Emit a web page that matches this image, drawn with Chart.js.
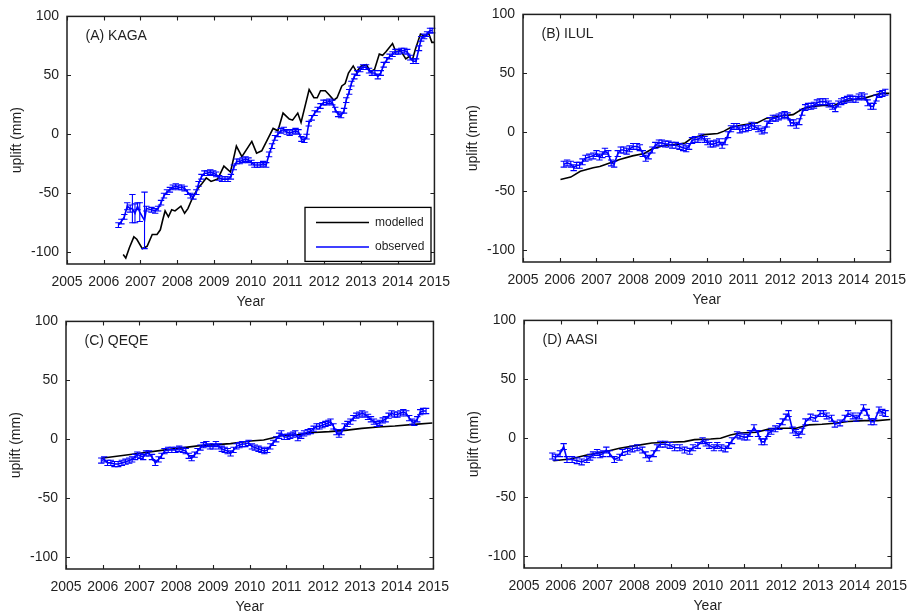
<!DOCTYPE html>
<html lang="en">
<head>
<meta charset="UTF-8">
<title>GPS uplift: modelled vs observed</title>
<script src="https://cdn.jsdelivr.net/npm/chart.js"></script>
<style>
    body {
        margin: 0;
        background: #fff;
        width: 915px;
        height: 614px;
        overflow: hidden;
        position: relative;
    }
    canvas { position: absolute; }
</style>
</head>
<body>
<canvas id="panelA" width="460" height="312" style="left:0px;top:0px"></canvas>
<canvas id="panelB" width="460" height="312" style="left:456px;top:-2px"></canvas>
<canvas id="panelC" width="460" height="312" style="left:-1px;top:305px"></canvas>
<canvas id="panelD" width="460" height="312" style="left:457px;top:304px"></canvas>
<script>
const xTicks = [2005, 2006, 2007, 2008, 2009, 2010, 2011, 2012, 2013, 2014, 2015];
const yTicks = [-100, -50, 0, 50, 100];

// (A) KAGA
const obsYearsA = [2006.40, 2006.48, 2006.56, 2006.64, 2006.72, 2006.78, 2006.85, 2006.92, 2006.98, 2007.11,
    2007.16, 2007.30, 2007.40, 2007.48, 2007.56, 2007.64, 2007.72, 2007.80, 2007.88, 2007.96,
    2008.04, 2008.12, 2008.20, 2008.28, 2008.36, 2008.44, 2008.52, 2008.58, 2008.66, 2008.74,
    2008.82, 2008.90, 2008.98, 2009.06, 2009.14, 2009.22, 2009.30, 2009.38, 2009.46, 2009.54,
    2009.62, 2009.70, 2009.78, 2009.86, 2009.94, 2010.02, 2010.10, 2010.18, 2010.26, 2010.34,
    2010.42, 2010.50, 2010.58, 2010.66, 2010.74, 2010.82, 2010.90, 2010.98, 2011.06, 2011.14,
    2011.22, 2011.30, 2011.38, 2011.46, 2011.52, 2011.58, 2011.66, 2011.74, 2011.82, 2011.90,
    2011.98, 2012.06, 2012.14, 2012.22, 2012.30, 2012.38, 2012.46, 2012.54, 2012.60, 2012.68,
    2012.74, 2012.82, 2012.90, 2012.98, 2013.06, 2013.14, 2013.22, 2013.30, 2013.38, 2013.46,
    2013.54, 2013.62, 2013.70, 2013.78, 2013.86, 2013.94, 2014.02, 2014.10, 2014.18, 2014.26,
    2014.34, 2014.42, 2014.50, 2014.58, 2014.64, 2014.72, 2014.80, 2014.88, 2014.94];
const obsValsA = [-77, -74, -70, -61, -63, -63, -67, -61, -66, -73,
    -63, -64, -65, -63, -58, -52, -49, -47, -45, -44,
    -45, -45, -46, -49, -52, -53, -49, -42, -36, -33,
    -33, -32, -33, -34, -37, -38, -38, -38, -36, -28,
    -23, -23, -22, -21, -22, -24, -26, -26, -26, -25,
    -26, -17, -10, -3, 0, 3, 4, 2, 1, 2,
    3, 2, -4, -5, -2, 9, 14, 18, 21, 24,
    27, 27, 28, 27, 21, 17, 16, 20, 29, 36,
    43, 49, 52, 55, 57, 57, 54, 52, 52, 49,
    52, 59, 63, 66, 68, 70, 70, 71, 71, 70,
    65, 62, 62, 73, 81, 83, 85, 88, 88];
const obsErrA = [2, 2, 2, 3, 3, 12, 8, 3, 8, 24,
    2, 2, 2, 2, 2, 2, 2, 2, 2, 2,
    2, 2, 2, 2, 2, 2, 2, 2, 2, 2,
    2, 2, 2, 2, 2, 2, 2, 2, 2, 2,
    2, 2, 2, 2, 2, 2, 2, 2, 2, 2,
    2, 2, 2, 2, 2, 2, 2, 2, 2, 2,
    2, 2, 2, 2, 2, 2, 2, 2, 2, 2,
    2, 2, 2, 2, 2, 2, 2, 2, 2, 2,
    2, 2, 2, 2, 2, 2, 2, 2, 2, 2,
    2, 2, 2, 2, 2, 2, 2, 2, 2, 2,
    2, 2, 2, 2, 2, 2, 2, 2, 2];
const modYearsA = [2006.53, 2006.60, 2006.70, 2006.82, 2006.90, 2007.05, 2007.18, 2007.32, 2007.45, 2007.54,
    2007.61, 2007.67, 2007.76, 2007.85, 2007.94, 2008.10, 2008.20, 2008.29, 2008.43, 2008.56,
    2008.67, 2008.79, 2008.92, 2009.10, 2009.27, 2009.45, 2009.61, 2009.76, 2010.03, 2010.16,
    2010.30, 2010.61, 2010.74, 2010.88, 2011.05, 2011.14, 2011.28, 2011.37, 2011.59, 2011.72,
    2011.81, 2011.90, 2012.03, 2012.12, 2012.26, 2012.35, 2012.48, 2012.57, 2012.66, 2012.79,
    2012.88, 2013.01, 2013.15, 2013.26, 2013.37, 2013.50, 2013.59, 2013.68, 2013.86, 2013.95,
    2014.08, 2014.22, 2014.31, 2014.40, 2014.48, 2014.62, 2014.75, 2014.84, 2014.93, 2015.00];
const modValsA = [-102, -105, -96, -87, -89, -97, -95, -85, -85, -81,
    -72, -65, -70, -64, -65, -61, -67, -63, -53, -46,
    -42, -37, -40, -38, -27, -32, -10, -19, -6, -16,
    -14, 5, 3, 18, 13, 12, 18, 10, 38, 31,
    31, 37, 37, 34, 29, 31, 41, 43, 52, 58,
    53, 58, 59, 53, 55, 68, 67, 70, 77, 70,
    71, 64, 66, 63, 72, 85, 83, 86, 78, 78];

// (B) ILUL
const obsYearsB = [2006.11, 2006.20, 2006.30, 2006.38, 2006.46, 2006.54, 2006.62, 2006.70, 2006.80, 2006.91,
    2007.00, 2007.08, 2007.16, 2007.23, 2007.32, 2007.40, 2007.48, 2007.58, 2007.66, 2007.74,
    2007.82, 2007.90, 2008.00, 2008.10, 2008.18, 2008.26, 2008.34, 2008.42, 2008.52, 2008.60,
    2008.70, 2008.78, 2008.87, 2008.96, 2009.06, 2009.16, 2009.26, 2009.36, 2009.44, 2009.52,
    2009.60, 2009.68, 2009.76, 2009.85, 2009.94, 2010.02, 2010.10, 2010.18, 2010.26, 2010.34,
    2010.42, 2010.50, 2010.58, 2010.66, 2010.74, 2010.82, 2010.90, 2010.98, 2011.06, 2011.14,
    2011.22, 2011.30, 2011.40, 2011.50, 2011.58, 2011.64, 2011.72, 2011.80, 2011.88, 2011.96,
    2012.04, 2012.12, 2012.20, 2012.28, 2012.36, 2012.44, 2012.52, 2012.60, 2012.68, 2012.76,
    2012.84, 2012.92, 2013.00, 2013.08, 2013.16, 2013.24, 2013.32, 2013.42, 2013.50, 2013.58,
    2013.66, 2013.74, 2013.82, 2013.90, 2013.98, 2014.06, 2014.14, 2014.22, 2014.30, 2014.38,
    2014.46, 2014.54, 2014.62, 2014.70, 2014.78, 2014.86];
const obsValsB = [-27, -26, -27, -30, -28, -28, -25, -22, -21, -20,
    -18, -21, -19, -16, -18, -26, -27, -18, -15, -15,
    -16, -14, -12, -12, -13, -18, -22, -20, -15, -11,
    -9, -9, -10, -10, -11, -11, -12, -13, -14, -12,
    -7, -6, -6, -4, -6, -8, -10, -10, -9, -8,
    -11, -8, -2, 3, 5, 5, 2, 3, 3, 4,
    6, 5, 3, 1, 2, 7, 10, 12, 12, 13,
    14, 15, 14, 8, 8, 6, 9, 17, 21, 22,
    22, 23, 25, 26, 26, 26, 24, 22, 20, 24,
    26, 27, 28, 29, 28, 28, 30, 31, 30, 25,
    22, 22, 29, 32, 33, 34];
const obsErrB = 2.5;
const modYearsB = [2006.02, 2006.30, 2006.56, 2006.91, 2007.09, 2007.36, 2007.63, 2007.98, 2008.30, 2008.52,
    2008.87, 2009.23, 2009.41, 2009.59, 2009.94, 2010.30, 2010.47, 2010.65, 2010.92, 2011.37,
    2011.63, 2012.08, 2012.35, 2012.61, 2012.88, 2013.24, 2013.41, 2013.68, 2014.04, 2014.30,
    2014.62, 2014.75, 2014.97];
const modValsB = [-40, -38, -33, -30, -29, -26, -23, -20, -18, -14,
    -11, -10, -9, -5, -2, -1, 1, 4, 6, 8,
    12, 14, 15, 20, 22, 23, 22, 26, 28, 29,
    32, 33, 33];

// (C) QEQE
const obsYearsC = [2005.96, 2006.04, 2006.13, 2006.22, 2006.32, 2006.42, 2006.52, 2006.62, 2006.72, 2006.80,
    2006.88, 2006.94, 2007.02, 2007.10, 2007.18, 2007.26, 2007.34, 2007.43, 2007.52, 2007.60,
    2007.68, 2007.78, 2007.88, 2007.98, 2008.08, 2008.18, 2008.26, 2008.34, 2008.42, 2008.50,
    2008.58, 2008.66, 2008.74, 2008.82, 2008.92, 2009.00, 2009.08, 2009.16, 2009.24, 2009.32,
    2009.40, 2009.48, 2009.56, 2009.64, 2009.72, 2009.80, 2009.88, 2009.97, 2010.06, 2010.14,
    2010.24, 2010.32, 2010.40, 2010.48, 2010.56, 2010.64, 2010.72, 2010.80, 2010.86, 2010.94,
    2011.02, 2011.10, 2011.18, 2011.24, 2011.31, 2011.40, 2011.48, 2011.58, 2011.66, 2011.74,
    2011.82, 2011.90, 2011.98, 2012.06, 2012.14, 2012.20, 2012.28, 2012.36, 2012.43, 2012.50,
    2012.58, 2012.66, 2012.74, 2012.82, 2012.90, 2012.98, 2013.06, 2013.14, 2013.22, 2013.30,
    2013.38, 2013.46, 2013.54, 2013.62, 2013.70, 2013.78, 2013.86, 2013.94, 2014.02, 2014.10,
    2014.18, 2014.26, 2014.34, 2014.42, 2014.48, 2014.56, 2014.64, 2014.72, 2014.80];
const obsValsC = [-18, -17, -20, -20, -21, -21, -20, -19, -18, -17,
    -15, -13, -14, -15, -12, -12, -15, -20, -17, -14,
    -10, -9, -9, -9, -8, -9, -10, -14, -16, -13,
    -10, -7, -5, -4, -6, -6, -4, -6, -8, -9,
    -10, -12, -9, -6, -5, -4, -4, -3, -6, -7,
    -8, -9, -10, -9, -6, -3, 0, 3, 5, 2,
    2, 3, 4, 5, 1, 3, 5, 6, 7, 9,
    11, 11, 12, 13, 14, 15, 11, 6, 4, 6,
    11, 13, 15, 18, 20, 21, 22, 21, 19, 17,
    15, 13, 14, 16, 17, 20, 22, 21, 21, 22,
    23, 22, 18, 15, 14, 17, 23, 24, 24];
const obsErrC = 2.2;
const modYearsC = [2005.96, 2006.80, 2007.70, 2008.59, 2009.48, 2010.02, 2010.38, 2010.64, 2010.91, 2011.27,
    2011.63, 2012.16, 2012.60, 2013.05, 2013.50, 2013.95, 2014.48, 2014.97];
const modValsC = [-16, -12.7, -9, -5.6, -3.7, -1.4, -0.6, 1.4, 3.4, 3.7,
    5.6, 6.5, 7.6, 9.3, 10.5, 11.3, 12.7, 13.8];

// (D) AASI
const obsYearsD = [2005.77, 2005.86, 2005.98, 2006.08, 2006.17, 2006.31, 2006.44, 2006.57, 2006.71, 2006.80,
    2006.88, 2006.99, 2007.07, 2007.15, 2007.24, 2007.33, 2007.46, 2007.60, 2007.68, 2007.82,
    2007.95, 2008.08, 2008.22, 2008.31, 2008.41, 2008.53, 2008.62, 2008.71, 2008.84, 2008.97,
    2009.10, 2009.24, 2009.37, 2009.51, 2009.60, 2009.73, 2009.86, 2009.95, 2010.04, 2010.17,
    2010.26, 2010.37, 2010.48, 2010.57, 2010.66, 2010.80, 2010.88, 2010.99, 2011.08, 2011.15,
    2011.26, 2011.37, 2011.46, 2011.55, 2011.64, 2011.73, 2011.84, 2011.95, 2012.04, 2012.13,
    2012.20, 2012.31, 2012.40, 2012.48, 2012.57, 2012.66, 2012.80, 2012.93, 2013.06, 2013.15,
    2013.24, 2013.37, 2013.46, 2013.60, 2013.73, 2013.82, 2013.95, 2014.04, 2014.13, 2014.24,
    2014.33, 2014.44, 2014.53, 2014.66, 2014.75, 2014.84];
const obsValsD = [-15, -16, -13, -7, -18, -18, -19, -20, -18, -16,
    -14, -12, -14, -13, -10, -13, -18, -16, -12, -11,
    -9, -8, -10, -14, -17, -13, -8, -5, -5, -6,
    -8, -8, -10, -11, -8, -6, -2, -4, -6, -8,
    -6, -8, -9, -6, -2, 3, 2, 1, 1, 4,
    9, 4, -3, -3, 4, 6, 8, 10, 14, 18,
    21, 7, 5, 3, 6, 14, 18, 17, 21, 21,
    19, 17, 12, 13, 17, 21, 19, 17, 19, 26,
    22, 14, 14, 24, 22, 21];
const obsErrD = 2.5;
const modYearsD = [2005.80, 2006.26, 2006.71, 2007.15, 2007.60, 2008.04, 2008.48, 2008.93, 2009.37, 2009.64,
    2010.08, 2010.35, 2010.62, 2010.88, 2011.33, 2011.68, 2012.04, 2012.40, 2012.75, 2013.11,
    2013.46, 2013.82, 2014.26, 2014.62, 2014.97];
const modValsD = [-19, -17.6, -14.2, -11.9, -8.5, -6.2, -4, -3.4, -2.8, -1.1,
    -0.6, 0, 2.8, 4.5, 5.1, 8, 8.5, 8.5, 11.4, 11.9,
    12.8, 14.2, 15, 15, 15.9];

const FONT = "'Liberation Sans', Arial, sans-serif";
const INK = '#1f1f1f';

function pairs(xs, ys) {
    return xs.map((x, i) => ({ x: x, y: ys[i] }));
}

// box, inward ticks, error bars, panel label and legend
const decorations = {
    id: 'decorations',
    afterDatasetsDraw(chart, args, opts) {
        const ctx = chart.ctx;
        const xs = chart.scales.x, ys = chart.scales.y;

        // error bars of the observed series
        const data = chart.data.datasets[0].data;
        ctx.save();
        ctx.strokeStyle = '#0000ff';
        ctx.lineWidth = 1.1;
        data.forEach((p, i) => {
            const e = Array.isArray(opts.err) ? opts.err[i] : opts.err;
            const px = xs.getPixelForValue(p.x);
            const y1 = ys.getPixelForValue(p.y - e);
            const y2 = ys.getPixelForValue(p.y + e);
            ctx.beginPath();
            ctx.moveTo(px, y1); ctx.lineTo(px, y2);
            ctx.moveTo(px - 3.2, y1); ctx.lineTo(px + 3.2, y1);
            ctx.moveTo(px - 3.2, y2); ctx.lineTo(px + 3.2, y2);
            ctx.stroke();
        });
        ctx.restore();
    },
    afterDraw(chart, args, opts) {
        const ctx = chart.ctx;
        const xs = chart.scales.x, ys = chart.scales.y;
        const ca = chart.chartArea;
        ctx.save();
        ctx.strokeStyle = INK;
        ctx.lineWidth = 1.5;
        ctx.strokeRect(ca.left, ca.top, ca.right - ca.left, ca.bottom - ca.top);
        ctx.lineWidth = 1.1;
        ctx.beginPath();
        xTicks.forEach(v => {
            const px = Math.round(xs.getPixelForValue(v)) + 0.5;
            ctx.moveTo(px, ca.bottom); ctx.lineTo(px, ca.bottom - 4);
            ctx.moveTo(px, ca.top); ctx.lineTo(px, ca.top + 4);
        });
        yTicks.forEach(v => {
            const py = Math.round(ys.getPixelForValue(v)) + 0.5;
            ctx.moveTo(ca.left, py); ctx.lineTo(ca.left + 4, py);
            ctx.moveTo(ca.right, py); ctx.lineTo(ca.right - 4, py);
        });
        ctx.stroke();

        // panel label
        ctx.fillStyle = INK;
        ctx.font = '14px ' + FONT;
        ctx.textBaseline = 'middle';
        ctx.textAlign = 'left';
        ctx.fillText(opts.label, ca.left + 18.5, ca.top + 19.5);

        if (opts.legend) {
            const lx = ca.left + 238, ly = ca.top + 191;
            const lw = 126, lh = 54;
            ctx.fillStyle = '#fff';
            ctx.fillRect(lx, ly, lw, lh);
            ctx.strokeStyle = '#000';
            ctx.lineWidth = 1.3;
            ctx.strokeRect(lx, ly, lw, lh);
            ctx.lineWidth = 1.5;
            ctx.beginPath();
            ctx.strokeStyle = '#000';
            ctx.moveTo(lx + 11, ly + 15); ctx.lineTo(lx + 64, ly + 15);
            ctx.stroke();
            ctx.beginPath();
            ctx.strokeStyle = '#0000ff';
            ctx.moveTo(lx + 11, ly + 39.5); ctx.lineTo(lx + 64, ly + 39.5);
            ctx.stroke();
            ctx.fillStyle = INK;
            ctx.font = '12px ' + FONT;
            ctx.fillText('modelled', lx + 70, ly + 15);
            ctx.fillText('observed', lx + 70, ly + 39.5);
        }
        ctx.restore();
    }
};

function makePanel(id, label, obsX, obsY, err, modX, modY, legend) {
    const ctx = document.getElementById(id).getContext('2d');
    return new Chart(ctx, {
        type: 'scatter',
        data: {
            datasets: [
                {
                    label: 'observed',
                    data: pairs(obsX, obsY),
                    showLine: true,
                    borderColor: '#0000ff',
                    backgroundColor: '#0000ff',
                    borderWidth: 1.6,
                    pointRadius: 0,
                    tension: 0,
                    order: 0
                },
                {
                    label: 'modelled',
                    data: pairs(modX, modY),
                    showLine: true,
                    borderColor: '#000000',
                    backgroundColor: '#000000',
                    borderWidth: 1.6,
                    pointRadius: 0,
                    tension: 0,
                    order: 1
                }
            ]
        },
        options: {
            responsive: false,
            animation: false,
            events: [],
            layout: { padding: { left: 0, right: 19, top: 16, bottom: 0 } },
            plugins: {
                legend: { display: false },
                tooltip: { enabled: false },
                decorations: { label: label, err: err, legend: legend }
            },
            scales: {
                x: {
                    type: 'linear',
                    min: 2005,
                    max: 2015,
                    afterBuildTicks: s => { s.ticks = xTicks.map(v => ({ value: v })); },
                    afterFit: s => { s.height = 48; },
                    grid: { display: false, drawTicks: false },
                    border: { display: false },
                    ticks: {
                        padding: 10,
                        color: INK,
                        font: { family: FONT, size: 14 },
                        maxRotation: 0,
                        callback: v => String(v)
                    },
                    title: {
                        display: true,
                        text: 'Year',
                        color: INK,
                        font: { family: FONT, size: 14 },
                        padding: { top: 0, bottom: 1.6 }
                    }
                },
                y: {
                    type: 'linear',
                    min: -110,
                    max: 100,
                    afterBuildTicks: s => { s.ticks = yTicks.map(v => ({ value: v })); },
                    afterFit: s => { s.width = 67; },
                    grid: { display: false, drawTicks: false },
                    border: { display: false },
                    ticks: {
                        padding: 8,
                        color: INK,
                        font: { family: FONT, size: 14 },
                        callback: v => String(v)
                    },
                    title: {
                        display: true,
                        text: 'uplift (mm)',
                        color: INK,
                        font: { family: FONT, size: 14 },
                        padding: { top: 8.6, bottom: 0 }
                    }
                }
            }
        },
        plugins: [decorations]
    });
}

makePanel('panelA', '(A) KAGA', obsYearsA, obsValsA, obsErrA, modYearsA, modValsA, true);
makePanel('panelB', '(B) ILUL', obsYearsB, obsValsB, obsErrB, modYearsB, modValsB, false);
makePanel('panelC', '(C) QEQE', obsYearsC, obsValsC, obsErrC, modYearsC, modValsC, false);
makePanel('panelD', '(D) AASI', obsYearsD, obsValsD, obsErrD, modYearsD, modValsD, false);
</script>
</body>
</html>
